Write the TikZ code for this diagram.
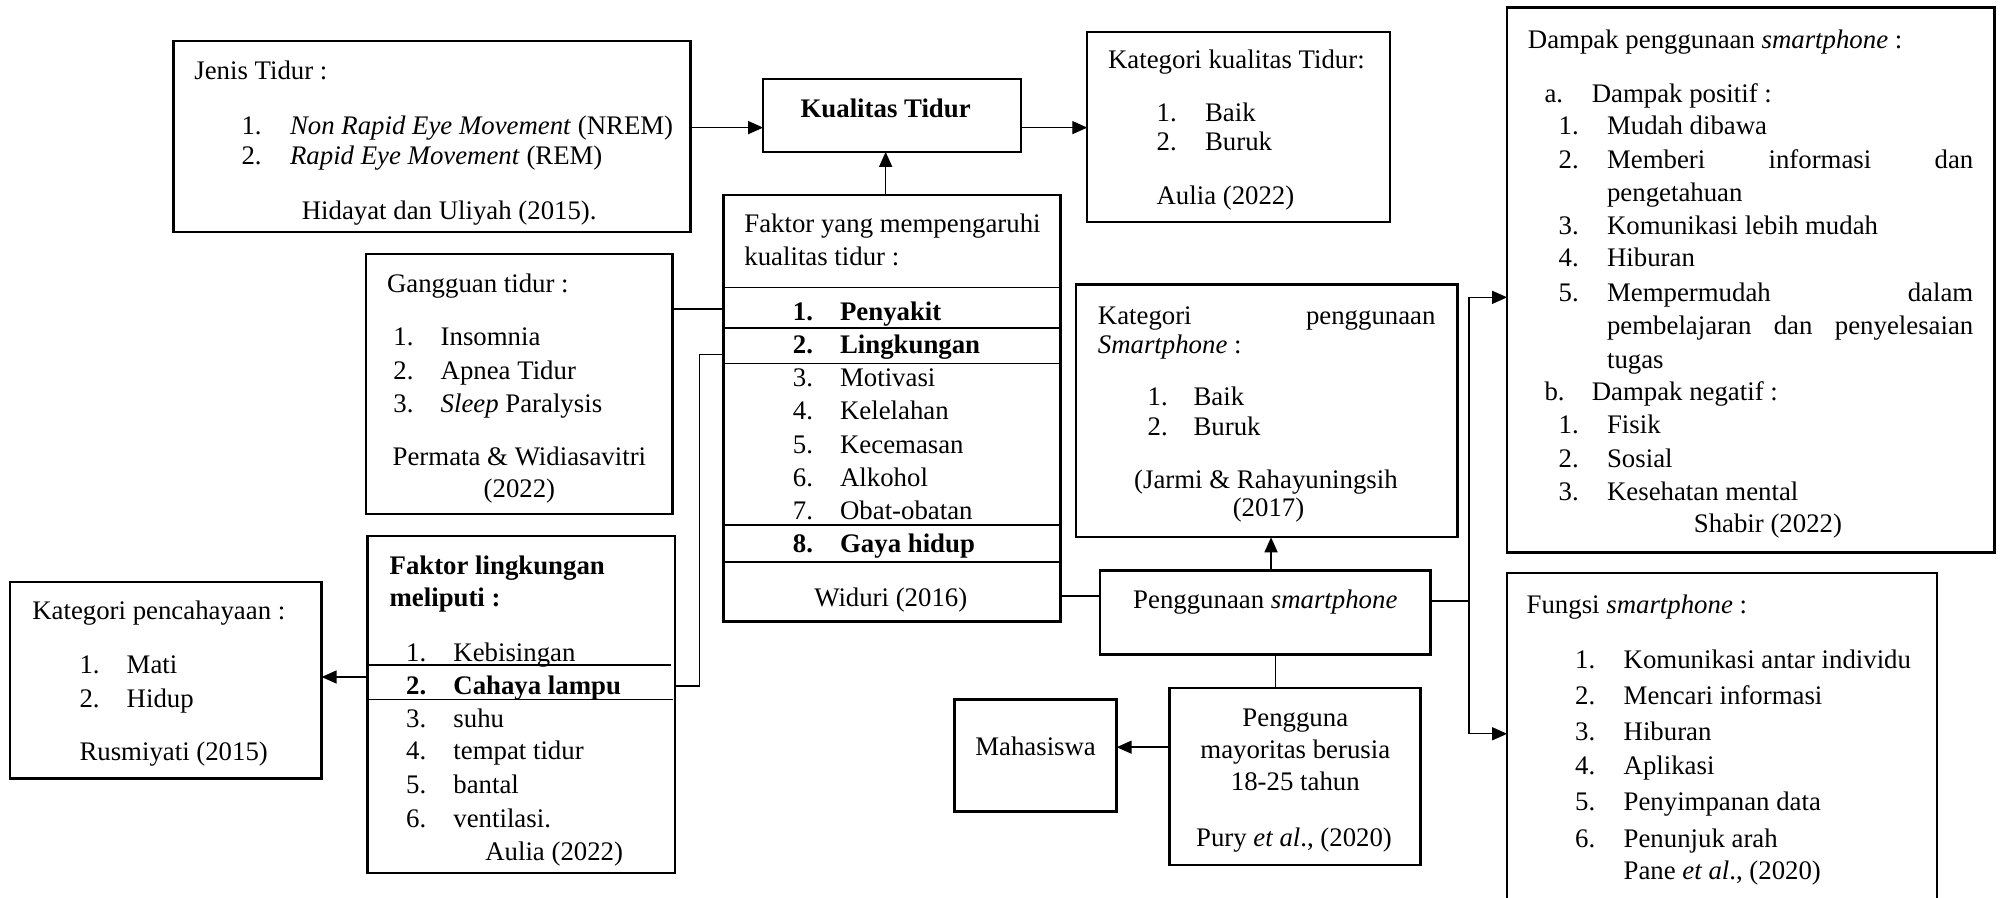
\documentclass[tikz,border=0pt]{standalone}
\usepackage{fontspec}
\setmainfont{Liberation Serif}
\usetikzlibrary{arrows.meta}
\newcommand\fs{\fontsize{13.4}{16}\selectfont}
\newcommand\mkbox[5]{\node[bx, minimum width={(#4-#2)*0.6381pt}, minimum height={(#5-#3)*0.6381pt}] (#1) at ({(#2+#4)/2},{(#3+#5)/2}) {};}
\tikzset{
  bx/.style={draw, line width=1.2pt, inner sep=0pt, outer sep=0pt},
  tl/.style={font=\fs, inner sep=0pt, anchor=base west, yshift=-4.5pt},
  tc/.style={font=\fs, inner sep=0pt, anchor=base, yshift=-4.5pt},
  tb/.style={font=\fs\bfseries},
  ln/.style={line width=0.7pt},
  sepl/.style={line width=0.7pt},
  ar/.style={line width=0.7pt, -{Triangle[length=7.5pt,width=6.5pt]}}
}
\begin{document}
\begin{tikzpicture}[x=0.6381pt,y=-0.6381pt]
\useasboundingbox (0,0) rectangle (1568,703);
\clip (0,0) rectangle (1568,703);

% ---------- boxes ----------
\mkbox{jenis}{136}{32}{541}{182}
\mkbox{kual}{598}{62}{800}{119}
\mkbox{katkual}{852}{25}{1089}{174}
\mkbox{dampak}{1181}{6}{1563}{433}
\mkbox{faktor}{567}{153}{831}{487}
\mkbox{gang}{287}{199}{527}{403}
\mkbox{flink}{288}{420}{529}{684}
\mkbox{pencah}{8}{456}{252}{610}
\mkbox{katpeng}{843}{223}{1142}{421}
\mkbox{pengg}{862}{447}{1121}{513}
\mkbox{pengguna}{916.5}{539}{1113}{678}
\mkbox{maha}{748}{548}{875}{636}
\mkbox{fungsi}{1181}{449}{1518}{720}

% ---------- Jenis Tidur ----------
\node[tl] (j0) at (152,55) {Jenis Tidur :};
\node[tl] (j1n) at (189,98) {1.};
\node[tl] (j1) at (227,98) {\textit{Non Rapid Eye Movement} (NREM)};
\node[tl] (j2n) at (189,122) {2.};
\node[tl] (j2) at (227,122) {\textit{Rapid Eye Movement} (REM)};
\node[tc] (j3) at (352,165) {Hidayat dan Uliyah (2015).};

% ---------- Kualitas Tidur ----------
\node[tc,tb] (kualt) at (694,85) {Kualitas Tidur};

% ---------- Kategori kualitas ----------
\node[tl] (kk0) at (868,47) {Kategori kualitas Tidur:};
\node[tl] (kk1n) at (906,88) {1.};
\node[tl] (kk1) at (944,88) {Baik};
\node[tl] (kk2n) at (906,111) {2.};
\node[tl] (kk2) at (944,111) {Buruk};
\node[tl] (kk3) at (906,153) {Aulia (2022)};

% ---------- Dampak ----------
\node[tl] (d0) at (1197,31) {Dampak penggunaan \textit{smartphone} :};
\node[tl] (dan) at (1210,73) {a.};
\node[tl] (da) at (1247,73) {Dampak positif :};
\node[tl] (d1n) at (1221,98) {1.};
\node[tl] (d1) at (1259,98) {Mudah dibawa};
\node[tl] (d2n) at (1221,125) {2.};
\node[tl] (d2) at (1259,125) {\hbox to 183.1pt{Memberi\hfill informasi\hfill dan}};
\node[tl] (d2b) at (1259,151) {pengetahuan};
\node[tl] (d3n) at (1221,177) {3.};
\node[tl] (d3) at (1259,177) {Komunikasi lebih mudah};
\node[tl] (d4n) at (1221,202) {4.};
\node[tl] (d4) at (1259,202) {Hiburan};
\node[tl] (d5n) at (1221,229) {5.};
\node[tl] (d5) at (1259,229) {\hbox to 183.1pt{Mempermudah\hfill dalam}};
\node[tl] (d5b) at (1259,255) {\hbox to 183.1pt{pembelajaran\hfill dan\hfill penyelesaian}};
\node[tl] (d5c) at (1259,282) {tugas};
\node[tl] (dbn) at (1210,307) {b.};
\node[tl] (db) at (1247,307) {Dampak negatif :};
\node[tl] (d6n) at (1221,333) {1.};
\node[tl] (d6) at (1259,333) {Fisik};
\node[tl] (d7n) at (1221,359) {2.};
\node[tl] (d7) at (1259,359) {Sosial};
\node[tl] (d8n) at (1221,385) {3.};
\node[tl] (d8) at (1259,385) {Kesehatan mental};
\node[tl] (d9) at (1327,410) {Shabir (2022)};

% ---------- Faktor ----------
\node[tl] (f0) at (583,175) {Faktor yang mempengaruhi};
\node[tl] (f0b) at (583,201) {kualitas tidur :};
\foreach \yy in {225.5,257,285,411.5,440.5}
  \draw[sepl] (faktor.west |- 0,\yy) -- (faktor.east |- 0,\yy);
\node[tl,tb] (f1n) at (621,244) {1.};
\node[tl,tb] (f1) at (658,244) {Penyakit};
\node[tl,tb] (f2n) at (621,270) {2.};
\node[tl,tb] (f2) at (658,270) {Lingkungan};
\node[tl] (f3n) at (621,296) {3.};
\node[tl] (f3) at (658,296) {Motivasi};
\node[tl] (f4n) at (621,322) {4.};
\node[tl] (f4) at (658,322) {Kelelahan};
\node[tl] (f5n) at (621,348) {5.};
\node[tl] (f5) at (658,348) {Kecemasan};
\node[tl] (f6n) at (621,374) {6.};
\node[tl] (f6) at (658,374) {Alkohol};
\node[tl] (f7n) at (621,400) {7.};
\node[tl] (f7) at (658,400) {Obat-obatan};
\node[tl,tb] (f8n) at (621,426) {8.};
\node[tl,tb] (f8) at (658,426) {Gaya hidup};
\node[tc] (f9) at (698,468) {Widuri (2016)};

% ---------- Gangguan ----------
\node[tl] (g0) at (303,222) {Gangguan tidur :};
\node[tl] (g1n) at (308,264) {1.};
\node[tl] (g1) at (345,264) {Insomnia};
\node[tl] (g2n) at (308,290) {2.};
\node[tl] (g2) at (345,290) {Apnea Tidur};
\node[tl] (g3n) at (308,316) {3.};
\node[tl] (g3) at (345,316) {\textit{Sleep} Paralysis};
\node[tc] (g4) at (407,358) {Permata \& Widiasavitri};
\node[tc] (g5) at (407,383) {(2022)};

% ---------- Faktor lingkungan ----------
\node[tl,tb] (l0) at (305,443) {Faktor lingkungan};
\node[tl,tb] (l0b) at (305,468) {meliputi :};
\node[tl] (l1n) at (318,511) {1.};
\node[tl] (l1) at (355,511) {Kebisingan};
\draw[sepl] (flink.west |- 0,521) -- (526,521);
\node[tl,tb] (l2n) at (318,537) {2.};
\node[tl,tb] (l2) at (355,537) {Cahaya lampu};
\draw[sepl] (flink.west |- 0,548) -- (527,548);
\node[tl] (l3n) at (318,563) {3.};
\node[tl] (l3) at (355,563) {suhu};
\node[tl] (l4n) at (318,588) {4.};
\node[tl] (l4) at (355,588) {tempat tidur};
\node[tl] (l5n) at (318,615) {5.};
\node[tl] (l5) at (355,615) {bantal};
\node[tl] (l6n) at (318,641) {6.};
\node[tl] (l6) at (355,641) {ventilasi.};
\node[tl] (l7) at (380,667) {Aulia (2022)};

% ---------- Kategori pencahayaan ----------
\node[tl] (p0) at (25,478) {Kategori pencahayaan :};
\node[tl] (p1n) at (62,521) {1.};
\node[tl] (p1) at (99,521) {Mati};
\node[tl] (p2n) at (62,547) {2.};
\node[tl] (p2) at (99,547) {Hidup};
\node[tl] (p3) at (62,589) {Rusmiyati (2015)};

% ---------- Kategori penggunaan ----------
\node[tl] (k0) at (860,247) {\hbox to 168.8pt{Kategori\hfill penggunaan}};
\node[tl] (k0b) at (860,270) {\textit{Smartphone} :};
\node[tl] (k1n) at (899,311) {1.};
\node[tl] (k1) at (935,311) {Baik};
\node[tl] (k2n) at (899,334.5) {2.};
\node[tl] (k2) at (935,334.5) {Buruk};
\node[tc] (k3) at (992,376) {(Jarmi \& Rahayuningsih};
\node[tc] (k4) at (994,398) {(2017)};

% ---------- Penggunaan / Pengguna / Mahasiswa ----------
\node[tc] (pgt) at (991.5,470) {Penggunaan \textit{smartphone}};
\node[tc] (u1) at (1015,562) {Pengguna};
\node[tc] (u2) at (1015,587) {mayoritas berusia};
\node[tc] (u3) at (1015,612) {18-25 tahun};
\node[tc] (u4) at (1014,656) {Pury \textit{et al}., (2020)};
\node[tc] (mt) at (811.5,585) {Mahasiswa};

% ---------- Fungsi ----------
\node[tl] (s0) at (1196,474) {Fungsi \textit{smartphone} :};
\node[tl] (s1n) at (1234,517) {1.};
\node[tl] (s1) at (1272,517) {Komunikasi antar individu};
\node[tl] (s2n) at (1234,545) {2.};
\node[tl] (s2) at (1272,545) {Mencari informasi};
\node[tl] (s3n) at (1234,573) {3.};
\node[tl] (s3) at (1272,573) {Hiburan};
\node[tl] (s4n) at (1234,600) {4.};
\node[tl] (s4) at (1272,600) {Aplikasi};
\node[tl] (s5n) at (1234,628) {5.};
\node[tl] (s5) at (1272,628) {Penyimpanan data};
\node[tl] (s6n) at (1234,657) {6.};
\node[tl] (s6) at (1272,657) {Penunjuk arah};
\node[tl] (s7) at (1272,682) {Pane \textit{et al}., (2020)};

% ---------- connectors ----------
\draw[ar] (jenis.east |- 0,100) -- (kual.west |- 0,100);
\draw[ar] (kual.east |- 0,100) -- (katkual.west |- 0,100);
\draw[ar] (faktor.north -| 694,0) -- (kual.south -| 694,0);
\draw[ln] (gang.east |- 0,242) -- (faktor.west |- 0,242);
\draw[ln] (faktor.west |- 0,278) -- ++(-19,0) |- (flink.east |- 0,537.5);
\draw[ar] (flink.west |- 0,530.5) -- (pencah.east |- 0,530.5);
\draw[ln] (faktor.east |- 0,467) -- (pengg.west |- 0,467);
\draw[ar] (pengg.north -| 996,0) -- (katpeng.south -| 996,0);
\draw[ln] (pengg.south -| 999.5,0) -- (pengguna.north -| 999.5,0);
\draw[ar] (pengguna.west |- 0,585.5) -- (maha.east |- 0,585.5);
\coordinate (sp) at (1151,471);
\draw[ln] (pengg.east |- 0,471) -- (sp);
\draw[ar] (sp) |- (dampak.west |- 0,233);
\draw[ar] (sp) |- (fungsi.west |- 0,575);
\end{tikzpicture}
\end{document}
